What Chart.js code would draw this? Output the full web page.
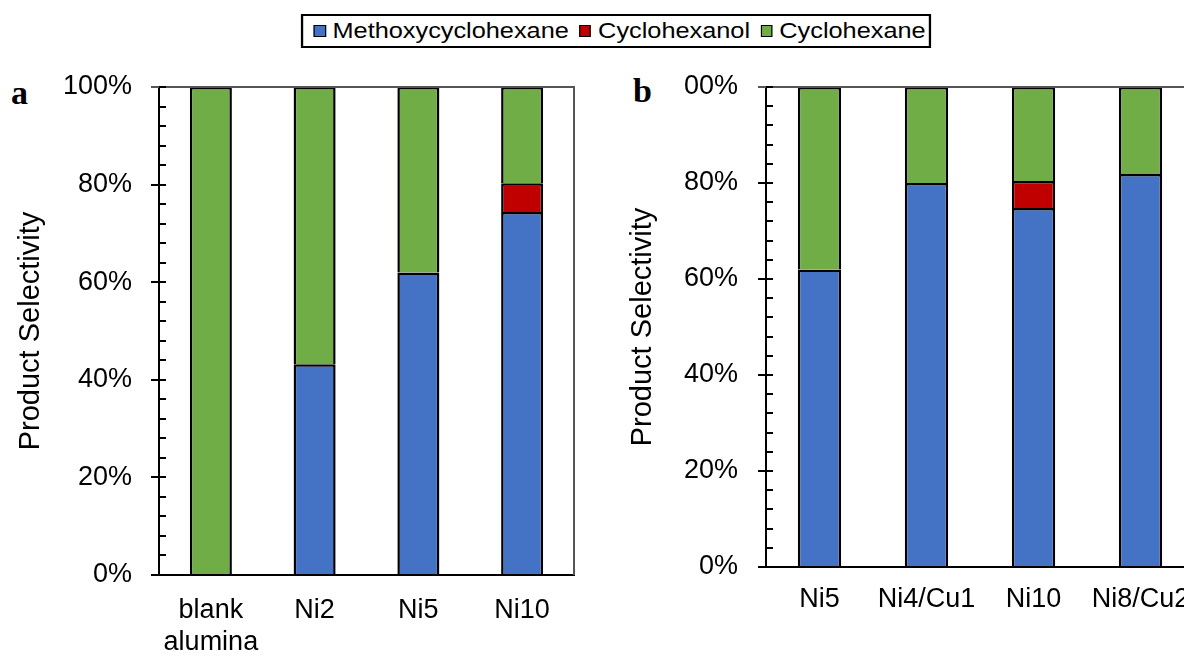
<!DOCTYPE html>
<html>
<head>
<meta charset="utf-8">
<script src="https://cdn.jsdelivr.net/npm/chart.js@4"></script>
<style>
  body { margin: 0; width: 1184px; height: 656px; overflow: hidden; position: relative; background: #fff; }
  canvas { position: absolute; top: 0; }
  #chartA { left: 0; }
  #chartB { left: 600px; }
  .tag { position: absolute; font: bold 34px "Liberation Serif", "Times New Roman", serif; line-height: 34px; color: #000; }
  #tagA { left: 11px; top: 76px; }
  #tagB { left: 633px; top: 74px; }
  #legend {
    position: absolute; left: 342px; top: 14px; width: 548px; height: 34px; box-sizing: border-box;
    border: 2px solid #000; transform: scaleX(1.15); transform-origin: center;
    display: flex; align-items: center; padding-left: 9px;
    font: 22px "Liberation Sans", Arial, sans-serif; color: #000; white-space: nowrap;
  }
  #legend .mk { width: 10.5px; height: 12px; box-sizing: border-box; border: 1px solid #000; margin-right: 6px; }
  #legend .it { display: flex; align-items: center; margin-right: 9px; }
</style>
</head>
<body>
<div id="legend"></div>
<div class="tag" id="tagA">a</div>
<div class="tag" id="tagB">b</div>
<canvas id="chartA" width="600" height="656"></canvas>
<canvas id="chartB" width="600" height="656"></canvas>
<script>
const seriesNames  = ["Methoxycyclohexane", "Cyclohexanol", "Cyclohexane"];
const seriesColors = ["#4472C4", "#C00000", "#70AD47"];

// panel a
const catsA          = [["blank", "alumina"], "Ni2", "Ni5", "Ni10"];
const methoxyA       = [0, 43.2, 62.0, 74.4];
const cyclohexanolA  = [0, 0, 0, 5.9];
const cyclohexaneA   = [100, 56.8, 38.0, 19.7];

// panel b
const catsB          = ["Ni5", "Ni4/Cu1", "Ni10", "Ni8/Cu2"];
const methoxyB       = [62.0, 80.0, 74.8, 81.9];
const cyclohexanolB  = [0, 0, 5.6, 0];
const cyclohexaneB   = [38.0, 20.0, 19.6, 18.1];

const yTicksA = ["0%", "20%", "40%", "60%", "80%", "100%"];
const yTicksB = ["0%", "20%", "40%", "60%", "80%", "00%"];

const FONT = "'Liberation Sans', Arial, sans-serif";

// ── legend ──────────────────────────────────────────────
document.getElementById("legend").innerHTML = seriesNames.map((n, i) =>
    `<span class="it"><span class="mk" style="background:${seriesColors[i]}"></span>${n}</span>`).join("");

// ── minor ticks inside + top/right frame ───────────────
const framePlugin = {
    id: "frame",
    afterDraw(chart) {
        const { ctx, chartArea: a } = chart;
        const y = chart.scales.y;
        ctx.save();
        ctx.strokeStyle = "#555";
        ctx.lineWidth = 2;
        ctx.beginPath();
        ctx.moveTo(a.left - 8, a.top);
        ctx.lineTo(a.right, a.top);
        ctx.lineTo(a.right, a.bottom);
        ctx.stroke();
        ctx.strokeStyle = "#000";
        ctx.beginPath();
        for (let v = 0; v <= 100; v += 4) {
            const py = Math.round(y.getPixelForValue(v));
            ctx.moveTo(a.left, py);
            ctx.lineTo(a.left + 7, py);
        }
        ctx.stroke();
        ctx.restore();
    }
};

function makeChart(id, cats, series, yTicks, sizes) {
    new Chart(document.getElementById(id), {
        type: "bar",
        data: {
            labels: cats,
            datasets: series.map((d, i) => ({
                label: seriesNames[i],
                data: d,
                backgroundColor: seriesColors[i],
                borderColor: "#000",
                borderWidth: 2.5,
                barPercentage: 0.405,
                categoryPercentage: 1
            }))
        },
        options: {
            responsive: false,
            animation: false,
            layout: { padding: { top: 87, right: sizes.right, left: 0, bottom: 0 } },
            plugins: { legend: { display: false }, tooltip: { enabled: false } },
            scales: {
                x: {
                    stacked: true,
                    z: 1,
                    grid: { display: false, drawTicks: false },
                    border: { display: true, color: "#000", width: 2 },
                    ticks: { color: "#000", font: { family: FONT, size: 27 }, padding: sizes.xPad,
                             maxRotation: 0, autoSkip: false },
                    afterFit: s => { s.height = sizes.xh; s.paddingLeft = 0; s.paddingRight = 0; }
                },
                y: {
                    stacked: true,
                    min: 0, max: 100,
                    grid: { drawOnChartArea: false, drawTicks: true, tickLength: 8, color: "#000", lineWidth: 2 },
                    border: { display: true, color: "#000", width: 2 },
                    ticks: { stepSize: 20, color: "#000", font: { family: FONT, size: 27 }, padding: sizes.yPad,
                             callback: (v, i) => yTicks[i] },
                    title: { display: true, text: "Product Selectivity", color: "#000",
                             font: { family: FONT, size: 29 }, padding: { top: sizes.tPad, bottom: 0 } },
                    afterFit: s => { s.width = sizes.yw; }
                }
            }
        },
        plugins: [framePlugin]
    });
}

makeChart("chartA", catsA, [methoxyA, cyclohexanolA, cyclohexaneA], yTicksA,
          { right: 26, xh: 81, yw: 159, xPad: 19, yPad: 19, tPad: 14 });
makeChart("chartB", catsB, [methoxyB, cyclohexanolB, cyclohexaneB], yTicksB,
          { right: 6, xh: 89, yw: 166, xPad: 16, yPad: 20, tPad: 26 });
</script>
</body>
</html>
